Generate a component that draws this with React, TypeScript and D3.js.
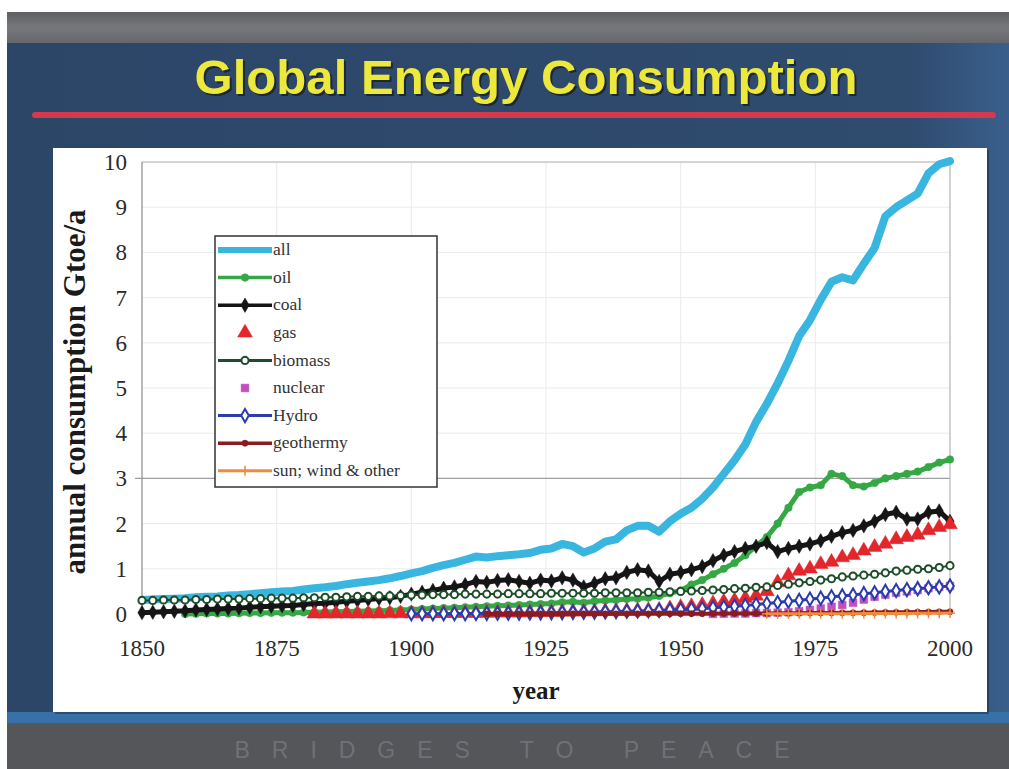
import React from "react";
import * as d3 from "d3";

// ---- data (Gtoe/a), 2-year steps ----
const years = [
  1850, 1852, 1854, 1856, 1858, 1860, 1862, 1864, 1866, 1868,
  1870, 1872, 1874, 1876, 1878, 1880, 1882, 1884, 1886, 1888,
  1890, 1892, 1894, 1896, 1898, 1900, 1902, 1904, 1906, 1908,
  1910, 1912, 1914, 1916, 1918, 1920, 1922, 1924, 1926, 1928,
  1930, 1932, 1934, 1936, 1938, 1940, 1942, 1944, 1946, 1948,
  1950, 1952, 1954, 1956, 1958, 1960, 1962, 1964, 1966, 1968,
  1970, 1972, 1974, 1976, 1978, 1980, 1982, 1984, 1986, 1988,
  1990, 1992, 1994, 1996, 1998, 2000,
];

const allFrom = 1850;
const allValues = [
  0.31, 0.32, 0.33, 0.34, 0.35, 0.37, 0.38, 0.39, 0.41, 0.42,
  0.44, 0.46, 0.48, 0.5, 0.51, 0.54, 0.57, 0.59, 0.62, 0.66,
  0.69, 0.72, 0.75, 0.79, 0.84, 0.9, 0.95, 1.02, 1.08, 1.13,
  1.2, 1.27, 1.25, 1.28, 1.3, 1.32, 1.35, 1.42, 1.45, 1.55,
  1.5, 1.36, 1.45, 1.6, 1.65, 1.85, 1.95, 1.95, 1.82, 2.05,
  2.22, 2.35, 2.55, 2.8, 3.1, 3.4, 3.75, 4.25, 4.65, 5.1,
  5.6, 6.15, 6.5, 6.95, 7.35, 7.45, 7.38, 7.75, 8.1, 8.8,
  9.0, 9.15, 9.3, 9.75, 9.95, 10.02,
];

const oilFrom = 1858;
const oilValues = [
  0.0,
  0.005, 0.01, 0.01, 0.01, 0.015,
  0.02, 0.02, 0.025, 0.03, 0.03, 0.035, 0.04, 0.045, 0.05, 0.055,
  0.06, 0.065, 0.07, 0.08, 0.09, 0.1, 0.11, 0.12, 0.13, 0.14,
  0.15, 0.16, 0.17, 0.18, 0.19, 0.2, 0.21, 0.22, 0.23, 0.26,
  0.27, 0.25, 0.28, 0.3, 0.31, 0.33, 0.34, 0.36, 0.4, 0.46,
  0.52, 0.65, 0.75, 0.88, 1.0, 1.13, 1.3, 1.5, 1.7, 2.0,
  2.35, 2.7, 2.8, 2.85, 3.1, 3.05, 2.85, 2.82, 2.9, 3.0,
  3.05, 3.1, 3.15, 3.25, 3.35, 3.42,
];

const coalFrom = 1850;
const coalValues = [
  0.03, 0.04, 0.05, 0.06, 0.07, 0.09, 0.1, 0.11, 0.12, 0.13,
  0.15, 0.16, 0.17, 0.18, 0.19, 0.21, 0.23, 0.24, 0.26, 0.28,
  0.3, 0.32, 0.34, 0.36, 0.39, 0.44, 0.48, 0.52, 0.57, 0.6,
  0.65, 0.72, 0.7, 0.74, 0.76, 0.72, 0.68, 0.75, 0.73, 0.8,
  0.75, 0.6, 0.68, 0.78, 0.8, 0.92, 0.98, 0.95, 0.72, 0.88,
  0.92, 0.98, 1.05, 1.18, 1.3, 1.38, 1.45, 1.5, 1.58, 1.38,
  1.45, 1.5, 1.55, 1.62, 1.72, 1.8, 1.85, 1.95, 2.05, 2.2,
  2.25, 2.1, 2.1, 2.25, 2.28, 2.05,
];

const gasFrom = 1882;
const gasValues = [
  0.005, 0.005, 0.006, 0.007,
  0.007, 0.008, 0.008, 0.009, 0.01, 0.01, 0.012, 0.014, 0.016, 0.018,
  0.02, 0.022, 0.024, 0.026, 0.028, 0.03, 0.033, 0.036, 0.04, 0.045,
  0.05, 0.05, 0.055, 0.06, 0.065, 0.07, 0.075, 0.08, 0.09, 0.12,
  0.15, 0.17, 0.2, 0.23, 0.27, 0.3, 0.35, 0.4, 0.5, 0.7,
  0.85, 0.95, 1.0, 1.1, 1.15, 1.25, 1.3, 1.4, 1.48, 1.55,
  1.65, 1.7, 1.75, 1.85, 1.92, 1.98,
];

const biomassFrom = 1850;
const biomassValues = [
  0.3, 0.3, 0.31, 0.31, 0.31, 0.32, 0.32, 0.33, 0.33, 0.33,
  0.34, 0.34, 0.35, 0.35, 0.35, 0.36, 0.36, 0.37, 0.37, 0.38,
  0.39, 0.39, 0.4, 0.4, 0.41, 0.42, 0.42, 0.43, 0.43, 0.43,
  0.44, 0.44, 0.44, 0.44, 0.45, 0.45, 0.45, 0.45, 0.46, 0.46,
  0.46, 0.46, 0.46, 0.47, 0.47, 0.47, 0.47, 0.48, 0.48, 0.49,
  0.5, 0.51, 0.52, 0.53, 0.54, 0.56, 0.57, 0.59, 0.6, 0.63,
  0.66, 0.69, 0.72, 0.75, 0.78, 0.82, 0.84, 0.86, 0.88, 0.91,
  0.95, 0.97, 0.99, 1.0, 1.03, 1.07,
];

const nuclearFrom = 1956;
const nuclearValues = [
  0.0, 0.005, 0.01, 0.01, 0.02, 0.02, 0.03,
  0.04, 0.06, 0.09, 0.12, 0.16, 0.2, 0.25, 0.32, 0.38, 0.43,
  0.47, 0.5, 0.53, 0.57, 0.6, 0.62,
];

const hydroFrom = 1900;
const hydroValues = [
  0.005, 0.006, 0.007, 0.008, 0.009,
  0.01, 0.012, 0.014, 0.016, 0.018, 0.02, 0.022, 0.025, 0.028, 0.032,
  0.036, 0.038, 0.042, 0.048, 0.054, 0.06, 0.066, 0.072, 0.08, 0.09,
  0.1, 0.11, 0.12, 0.14, 0.155, 0.17, 0.19, 0.21, 0.23, 0.255,
  0.28, 0.3, 0.33, 0.35, 0.38, 0.4, 0.42, 0.45, 0.47, 0.5,
  0.52, 0.54, 0.56, 0.58, 0.6, 0.62,
];

const geoFrom = 1914;
const geoValues = [
  0.001, 0.001, 0.001, 0.001, 0.002, 0.002, 0.002, 0.002,
  0.003, 0.003, 0.003, 0.004, 0.004, 0.004, 0.005, 0.005, 0.006, 0.006,
  0.007, 0.007, 0.008, 0.008, 0.009, 0.01, 0.011, 0.012, 0.013, 0.014,
  0.016, 0.018, 0.02, 0.022, 0.024, 0.026, 0.028, 0.03, 0.033, 0.036,
  0.038, 0.04, 0.043, 0.045, 0.048, 0.05,
];

const sunFrom = 1966;
const sunValues = [
  0.004, 0.004,
  0.005, 0.005, 0.006, 0.006, 0.007, 0.007, 0.008, 0.009, 0.01, 0.011,
  0.012, 0.013, 0.014, 0.016, 0.018, 0.02,
];

const yTicks = [0, 1, 2, 3, 4, 5, 6, 7, 8, 9, 10];
const xTicks = [1850, 1875, 1900, 1925, 1950, 1975, 2000];

type Pt = { year: number; v: number };
function toPts(from: number, values: number[]): Pt[] {
  const start = years.indexOf(from);
  return values.map((v, i) => ({ year: years[start + i], v }));
}

type Series = {
  name: string;
  pts: Pt[];
  color: string;
  lineWidth: number;
  legendWidth: number;
  marker: "none" | "circle" | "diamond" | "triangle" | "square" | "plus";
  markerSize: number;
  markerFill: string;
  markerStroke: string;
  legendLine: boolean;
};

const series: Series[] = [
  { name: "all", pts: toPts(allFrom, allValues), color: "#39b6df", lineWidth: 8, legendWidth: 6, marker: "none", markerSize: 0, markerFill: "none", markerStroke: "none", legendLine: true },
  { name: "oil", pts: toPts(oilFrom, oilValues), color: "#35a845", lineWidth: 5, legendWidth: 3.5, marker: "circle", markerSize: 45, markerFill: "#35a845", markerStroke: "#35a845", legendLine: true },
  { name: "coal", pts: toPts(coalFrom, coalValues), color: "#151515", lineWidth: 5, legendWidth: 3.5, marker: "diamond", markerSize: 60, markerFill: "#151515", markerStroke: "#151515", legendLine: true },
  { name: "gas", pts: toPts(gasFrom, gasValues), color: "#e2262b", lineWidth: 0, legendWidth: 0, marker: "triangle", markerSize: 95, markerFill: "#e2262b", markerStroke: "#e2262b", legendLine: false },
  { name: "biomass", pts: toPts(biomassFrom, biomassValues), color: "#1d4d2a", lineWidth: 2, legendWidth: 3, marker: "circle", markerSize: 40, markerFill: "#ffffff", markerStroke: "#1d4d2a", legendLine: true },
  { name: "nuclear", pts: toPts(nuclearFrom, nuclearValues), color: "#c04fc0", lineWidth: 0, legendWidth: 0, marker: "square", markerSize: 60, markerFill: "#c04fc0", markerStroke: "#c04fc0", legendLine: false },
  { name: "Hydro", pts: toPts(hydroFrom, hydroValues), color: "#2a3cae", lineWidth: 3, legendWidth: 3, marker: "diamond", markerSize: 50, markerFill: "#ffffff", markerStroke: "#2a3cae", legendLine: true },
  { name: "geothermy", pts: toPts(geoFrom, geoValues), color: "#8a1c1f", lineWidth: 4, legendWidth: 3.5, marker: "circle", markerSize: 30, markerFill: "#8a1c1f", markerStroke: "#8a1c1f", legendLine: true },
  { name: "sun; wind & other", pts: toPts(sunFrom, sunValues), color: "#f08a3c", lineWidth: 3, legendWidth: 3, marker: "plus", markerSize: 45, markerFill: "#f08a3c", markerStroke: "#f08a3c", legendLine: true },
];

const x = d3.scaleLinear().domain([1850, 2000]).range([142, 950]);
const y = d3.scaleLinear().domain([0, 10]).range([614, 162]);

const symbolMap: Record<string, d3.SymbolType> = {
  circle: d3.symbolCircle,
  diamond: d3.symbolDiamond,
  triangle: d3.symbolTriangle,
  square: d3.symbolSquare,
  plus: d3.symbolCross,
};

function Marker({ s, cx, cy }: { s: Series; cx: number; cy: number }) {
  if (s.marker === "none") return null;
  if (s.marker === "plus") {
    const h = 5;
    return (
      <g stroke={s.markerStroke} strokeWidth={1.5}>
        <line x1={cx - h} x2={cx + h} y1={cy} y2={cy} />
        <line x1={cx} x2={cx} y1={cy - h} y2={cy + h} />
      </g>
    );
  }
  const p = d3.symbol().type(symbolMap[s.marker]).size(s.markerSize)();
  return (
    <path
      d={p || ""}
      transform={`translate(${cx},${cy})`}
      fill={s.markerFill}
      stroke={s.markerStroke}
      strokeWidth={s.markerFill === "#ffffff" ? 2 : 0.5}
    />
  );
}

export default function App() {
  const line = d3
    .line<Pt>()
    .x((d) => x(d.year))
    .y((d) => y(d.v));

  const serif = "'Liberation Serif', 'Times New Roman', serif";
  const legendX = 215;
  const legendY = 236;
  const legendStep = 27.6;

  return (
    <div style={{ position: "absolute", left: 0, top: 0 }}>
      <svg width={1009} height={769} style={{ display: "block" }}>
        <defs>
          <linearGradient id="bg" x1="0" x2="1" y1="0" y2="0">
            <stop offset="0" stopColor="#2c4668" />
            <stop offset="0.9" stopColor="#2f4b6e" />
            <stop offset="1" stopColor="#3a5f8c" />
          </linearGradient>
          <linearGradient id="topband" x1="0" x2="0" y1="0" y2="1">
            <stop offset="0" stopColor="#5e5f63" />
            <stop offset="0.5" stopColor="#77787c" />
            <stop offset="1" stopColor="#66676b" />
          </linearGradient>
        </defs>
        <rect x={0} y={0} width={1009} height={769} fill="#ffffff" />
        <rect x={7} y={42} width={1002} height={682} fill="url(#bg)" />
        <rect x={7} y={12} width={1002} height={31} fill="url(#topband)" />
        <rect x={7} y={712} width={1002} height={11} fill="#3870a8" />
        <rect x={7} y={723} width={1002} height={46} fill="#55565a" />

        {/* title */}
        <text
          x={528}
          y={96}
          textAnchor="middle"
          fontFamily="'Liberation Sans', Arial, sans-serif"
          fontWeight="bold"
          fontSize={49}
          fill="#1b2636"
          textLength={663}
          lengthAdjust="spacingAndGlyphs"
        >
          Global Energy Consumption
        </text>
        <text
          x={526}
          y={94}
          textAnchor="middle"
          fontFamily="'Liberation Sans', Arial, sans-serif"
          fontWeight="bold"
          fontSize={49}
          fill="#ece83c"
          textLength={663}
          lengthAdjust="spacingAndGlyphs"
        >
          Global Energy Consumption
        </text>
        <line x1={35} x2={993} y1={115} y2={115} stroke="#d33a4e" strokeWidth={6} strokeLinecap="round" />

        {/* panel */}
        <rect x={55} y={150} width={934} height={564} fill="#1b2a3e" opacity={0.5} />
        <rect x={53} y={148} width={934} height={564} fill="#ffffff" />

        {/* gridlines */}
        {yTicks.filter((t) => t > 0).map((t) => (
          <line key={"gy" + t} x1={x(1850)} x2={x(2000)} y1={y(t)} y2={y(t)} stroke="#ebebeb" strokeWidth={1} />
        ))}
        {xTicks.slice(1, -1).map((t) => (
          <line key={"gx" + t} x1={x(t)} x2={x(t)} y1={y(10)} y2={y(0)} stroke="#ebebeb" strokeWidth={1} />
        ))}
        <line x1={x(1850) - 7} x2={x(2000)} y1={y(3)} y2={y(3)} stroke="#a0a0a0" strokeWidth={1.3} />
        <line x1={x(1850)} x2={x(2000)} y1={y(10)} y2={y(10)} stroke="#b5b5b5" strokeWidth={1.2} />
        <line x1={x(2000)} x2={x(2000)} y1={y(10)} y2={y(0)} stroke="#b5b5b5" strokeWidth={1.2} />
        <line x1={x(1850)} x2={x(1850)} y1={y(10)} y2={y(0)} stroke="#8a8a8a" strokeWidth={1.2} />

        {/* y ticks */}
        {yTicks.map((t) => (
          <text key={"yt" + t} x={127} y={y(t)} dy="0.35em" textAnchor="end" fontFamily={serif} fontSize={23} fill="#2a2a2a">
            {t}
          </text>
        ))}
        {xTicks.map((t) => (
          <text key={"xt" + t} x={x(t)} y={656} textAnchor="middle" fontFamily={serif} fontSize={23} fill="#2a2a2a">
            {t}
          </text>
        ))}
        <text
          transform={`translate(85,${392}) rotate(-90)`}
          textAnchor="middle"
          fontFamily={serif}
          fontWeight="bold"
          fontSize={31}
          fill="#1a1a1a"
        >
          annual consumption Gtoe/a
        </text>
        <text x={536} y={699} textAnchor="middle" fontFamily={serif} fontWeight="bold" fontSize={25} fill="#1a1a1a">
          year
        </text>

        {/* series */}
        {series.map((s) => (
          <g key={s.name}>
            {s.lineWidth > 0 && (
              <path
                d={line(s.pts) || ""}
                fill="none"
                stroke={s.color}
                strokeWidth={s.lineWidth}
                strokeLinejoin="round"
                strokeLinecap="round"
              />
            )}
            {s.marker !== "none" &&
              s.pts.map((p, i) => <Marker key={i} s={s} cx={x(p.year)} cy={y(p.v)} />)}
          </g>
        ))}

        {/* legend */}
        <rect x={legendX} y={legendY} width={222} height={251} fill="#ffffff" stroke="#333" strokeWidth={1.5} />
        {series.map((s, i) => {
          const cy = legendY + 14 + i * legendStep;
          return (
            <g key={"lg" + s.name}>
              {s.legendLine && (
                <line x1={legendX + 3} x2={legendX + 57} y1={cy} y2={cy} stroke={s.color} strokeWidth={s.legendWidth} />
              )}
              <Marker s={s} cx={legendX + 30} cy={cy} />
              <text x={legendX + 58} y={cy} dy="0.3em" fontFamily={serif} fontSize={17.5} fill="#333">
                {s.name}
              </text>
            </g>
          );
        })}

        {/* footer */}
        <text
          x={512}
          y={758}
          textAnchor="middle"
          fontFamily="'Liberation Sans', Arial, sans-serif"
          fontSize={23}
          fill="#707177"
          textLength={555}
          lengthAdjust="spacing"
        >
          BRIDGES TO PEACE
        </text>
      </svg>
    </div>
  );
}
